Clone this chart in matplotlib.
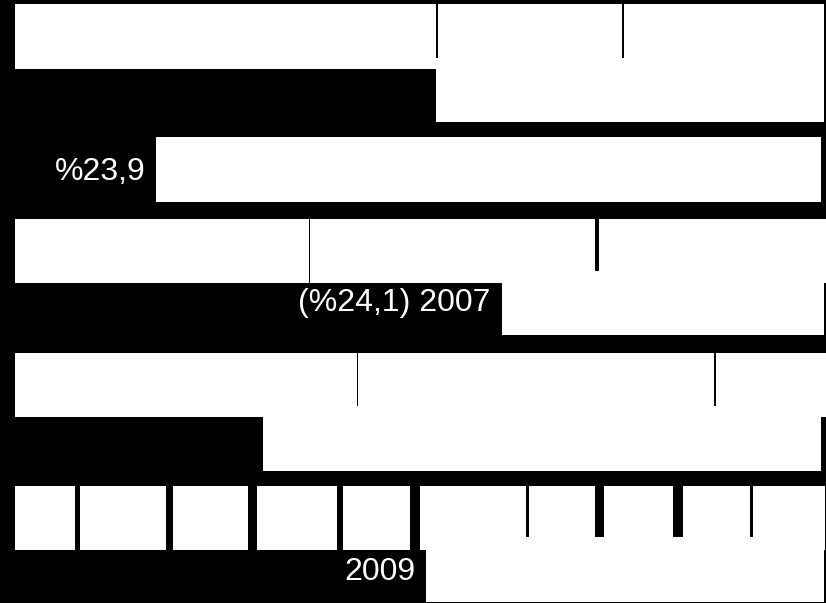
import matplotlib
matplotlib.use('Agg')
import matplotlib.pyplot as plt

# white bar pieces: left edge, right edge, top, bottom (chart units)
seg_left   = [15, 436, 156, 15, 502, 15, 263, 15, 80, 173, 257, 343, 420, 426]
seg_right  = [824, 824, 821, 826, 824, 826, 821, 75, 166, 248, 337, 410, 825, 824]
seg_top    = [4, 69, 137, 219, 283, 353, 417, 486, 486, 486, 486, 486, 486, 550]
seg_bottom = [69, 122, 202, 283, 334.5, 417, 471, 550, 550, 550, 550, 550, 550, 602]

# dark dividers inside the bars: centre, width, top, bottom
div_x      = [437, 623, 309.3, 596.5, 357.3, 715, 527, 599.5, 678, 751.5]
div_w      = [1.7, 2, 1, 4, 1.3, 1.5, 3, 9, 10, 2.7]
div_top    = [4, 4, 219, 219, 353, 353, 486, 486, 486, 486]
div_bottom = [57.7, 57.7, 283, 270.7, 405.7, 405.7, 536.7, 536.7, 536.7, 536.7]

# bar labels (right aligned, baseline)
labels  = ['%23,9', '(%24,1) 2007', '2009']
label_x = [146, 490, 415]
label_y = [180, 311, 580]

fig = plt.figure(figsize=(8.26, 6.03), dpi=100, facecolor='black')
ax = fig.add_axes([0, 0, 1, 1])
ax.set_facecolor('black')
ax.set_xlim(0, 826)
ax.set_ylim(603, 0)
ax.axis('off')

widths = [r - l for l, r in zip(seg_left, seg_right)]
heights = [b - t for t, b in zip(seg_top, seg_bottom)]
ax.barh(seg_top, widths, height=heights, left=seg_left, align='edge',
        color='white', linewidth=0)

div_left = [x - w / 2 for x, w in zip(div_x, div_w)]
div_h = [b - t for t, b in zip(div_top, div_bottom)]
ax.barh(div_top, div_w, height=div_h, left=div_left, align='edge',
        color='black', linewidth=0)

for txt, x, y in zip(labels, label_x, label_y):
    ax.text(x, y, txt, color='white', ha='right', va='baseline',
            fontsize=23, family=['Liberation Sans', 'DejaVu Sans'])

fig.savefig('out.png', dpi=100, facecolor='black')
